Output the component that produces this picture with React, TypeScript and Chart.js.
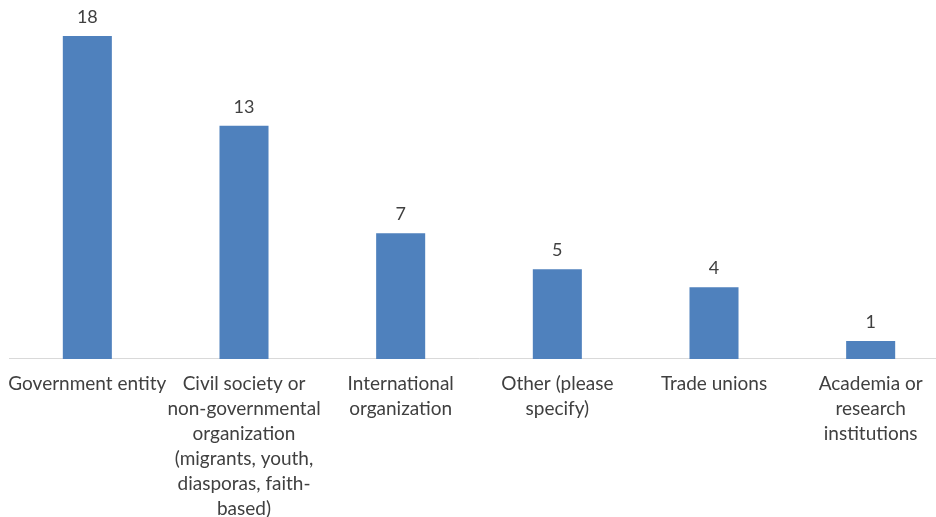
import React, { useEffect, useRef } from "react";
import { Chart, registerables } from "chart.js";

Chart.register(...registerables);

// Respondent counts by type of organization
const categories: string[][] = [
  ["Government entity"],
  ["Civil society or", "non-governmental", "organization", "(migrants, youth,", "diasporas, faith-", "based)"],
  ["International", "organization"],
  ["Other (please", "specify)"],
  ["Trade unions"],
  ["Academia or", "research", "institutions"],
];
const counts: number[] = [18, 13, 7, 5, 4, 1];

const TEXT_COLOR = "#404040";
const BAR_COLOR = "#4F81BD";
const FONT_FAMILY = "Lato, 'Open Sans', sans-serif";

// Writes each bar's value just above it
const valueLabels = {
  id: "valueLabels",
  afterDatasetsDraw(chart: Chart) {
    const ctx = chart.ctx;
    const meta = chart.getDatasetMeta(0);
    const values = chart.data.datasets[0].data as number[];
    ctx.save();
    ctx.font = `18px ${FONT_FAMILY}`;
    ctx.fillStyle = TEXT_COLOR;
    ctx.textAlign = "center";
    ctx.textBaseline = "alphabetic";
    meta.data.forEach((bar: any, i: number) => {
      ctx.fillText(String(values[i]), bar.x, bar.y - 13);
    });
    ctx.restore();
  },
};

export default function App() {
  const canvasRef = useRef<HTMLCanvasElement>(null);

  useEffect(() => {
    const canvas = canvasRef.current;
    if (!canvas) return;
    const chart = new Chart(canvas, {
      type: "bar",
      data: {
        labels: categories,
        datasets: [
          {
            data: counts,
            backgroundColor: BAR_COLOR,
            borderWidth: 0,
            barPercentage: 0.313,
            categoryPercentage: 1,
          },
        ],
      },
      options: {
        responsive: false,
        animation: false,
        devicePixelRatio: 1,
        layout: { padding: { left: 9, right: 1, top: 0, bottom: 0 } },
        plugins: {
          legend: { display: false },
          tooltip: { enabled: false },
        },
        scales: {
          x: {
            grid: { display: false, drawTicks: false },
            border: { display: true, color: "#D9D9D9", width: 1 },
            // labels may overhang the plot edges without shrinking it
            afterFit(scale: any) {
              scale.paddingLeft = 0;
              scale.paddingRight = 0;
            },
            ticks: {
              autoSkip: false,
              maxRotation: 0,
              minRotation: 0,
              padding: 12,
              color: TEXT_COLOR,
              font: { family: FONT_FAMILY, size: 19, lineHeight: 1.316 },
            },
          },
          y: {
            display: false,
            min: 0,
            max: 20,
          },
        },
      },
      plugins: [valueLabels],
    });
    return () => chart.destroy();
  }, []);

  return (
    <div
      style={{
        position: "fixed",
        left: 0,
        top: 0,
        width: 936,
        height: 517,
        overflow: "hidden",
        background: "#FFFFFF",
      }}
    >
      <canvas ref={canvasRef} width={950} height={533} style={{ display: "block" }} />
    </div>
  );
}
